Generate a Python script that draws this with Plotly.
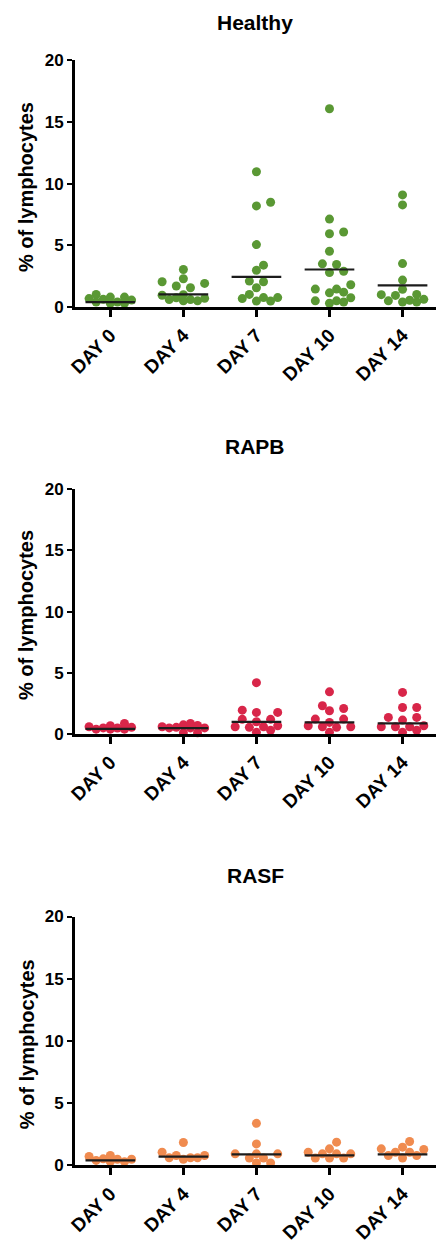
import math
import plotly.graph_objects as go

# Culture days on the x axis
days = ["DAY 0", "DAY 4", "DAY 7", "DAY 10", "DAY 14"]
y_ticks = [0, 5, 10, 15, 20]

# % of lymphocytes per donor, one list per culture day
healthy = [
    [0.3, 0.3, 0.4, 0.4, 0.56, 0.62, 0.68, 0.8, 0.8, 1.02],
    [0.5, 0.5, 0.6, 0.6, 0.7, 0.75, 0.95, 1.0, 1.56, 1.7, 1.91, 2.05, 2.29, 3.04],
    [0.48, 0.48, 0.68, 0.76, 0.76, 1.02, 1.56, 2.05, 2.1, 2.98, 3.39, 5.06, 8.2, 8.5, 10.97],
    [0.3, 0.4, 0.5, 0.5, 0.75, 1.15, 1.2, 1.45, 1.45, 1.8, 2.8, 2.9, 3.45, 3.5, 4.52,
     5.94, 6.08, 7.13, 16.08],
    [0.4, 0.4, 0.5, 0.55, 0.62, 0.94, 1.0, 1.02, 1.43, 2.18, 3.52, 8.28, 9.09],
]
healthy_median = [0.4, 1.02, 2.45, 3.04, 1.75]

rapb = [
    [0.4, 0.4, 0.4, 0.49, 0.5, 0.55, 0.6, 0.68, 0.87],
    [0.1, 0.1, 0.5, 0.5, 0.5, 0.55, 0.6, 0.7, 0.75, 0.87],
    [0.14, 0.3, 0.55, 0.6, 0.6, 0.68, 1.0, 1.2, 1.2, 1.77, 1.77, 1.95, 4.2],
    [0.14, 0.55, 0.6, 0.6, 0.68, 0.95, 1.22, 1.22, 1.9, 2.09, 2.31, 3.45],
    [0.14, 0.3, 0.6, 0.6, 0.6, 0.68, 1.14, 1.36, 1.36, 2.17, 2.17, 3.4],
]
rapb_median = [0.42, 0.49, 1.0, 0.95, 0.87]

rasf = [
    [0.3, 0.3, 0.4, 0.5, 0.5, 0.53, 0.72, 0.8],
    [0.5, 0.62, 0.62, 0.62, 0.8, 0.8, 1.06, 1.84],
    [0.2, 0.2, 0.6, 0.6, 0.93, 0.93, 0.93, 1.73, 3.38],
    [0.6, 0.6, 0.6, 0.93, 0.93, 0.93, 1.06, 1.33, 1.87],
    [0.6, 0.8, 0.8, 1.06, 1.06, 1.28, 1.33, 1.47, 1.92],
]
rasf_median = [0.4, 0.7, 0.88, 0.8, 0.88]

panels = [
    ("Healthy", healthy, healthy_median, "#5a9834"),
    ("RAPB", rapb, rapb_median, "#d82649"),
    ("RASF", rasf, rasf_median, "#f08b4f"),
]

W, H = 436, 1244
FONT = "Liberation Sans, Arial, sans-serif"
MARKER = 9

# vertical extent of each panel's plotting area (px from top: value 20, value 0)
panel_px = [(52.4, 303.6), (489.3, 738.7), (924.6, 1178.2)]
title_px = [14, 446, 883]
x_left_px = 69
x_range = [-0.485, 4.458]
x_unit_px = (W - x_left_px) / (x_range[1] - x_range[0])


def swarm(values, y_unit_px, step=7.2, dmin=8.8, kmax=3):
    """Bounded beeswarm: free slot nearest the centre, else the least crowded one."""
    placed, xs, ys = [], [], []
    order = [0]
    for k in range(1, kmax + 1):
        order += [k, -k]
    for v in sorted(values):
        y = v * y_unit_px
        best, best_gap = None, -1.0
        for k in order:
            x = k * step
            gap = min((math.hypot(x - px, y - py) for px, py in placed), default=1e9)
            if gap >= dmin:
                best = x
                break
            if gap > best_gap + 1e-9:
                best, best_gap = x, gap
        placed.append((best, y))
        xs.append(best / x_unit_px)
        ys.append(v)
    return xs, ys


fig = go.Figure()
annotations = []

for i, (name, groups, medians, color) in enumerate(panels):
    top_px, zero_px = panel_px[i]
    y_unit_px = (zero_px - top_px) / 20.0
    ax = "" if i == 0 else str(i + 1)
    xref, yref = "x" + ax, "y" + ax

    xs_all, ys_all = [], []
    for d, vals in enumerate(groups):
        offs, vs = swarm(vals, y_unit_px)
        xs_all += [d + o for o in offs]
        ys_all += vs
    fig.add_trace(go.Scatter(
        x=xs_all, y=ys_all, mode="markers", xaxis=xref, yaxis=yref,
        marker=dict(size=MARKER, color=color, line=dict(width=0)),
        cliponaxis=False, showlegend=False, hoverinfo="skip",
    ))

    mx, my = [], []
    for d, m in enumerate(medians):
        mx += [d - 0.34, d + 0.34, None]
        my += [m, m, None]
    fig.add_trace(go.Scatter(
        x=mx, y=my, mode="lines", xaxis=xref, yaxis=yref,
        line=dict(color="#1c1c1c", width=2.2),
        cliponaxis=False, showlegend=False, hoverinfo="skip",
    ))

    dom = [(H - zero_px) / H, (H - top_px) / H]
    fig.layout["xaxis" + ax] = dict(
        domain=[x_left_px / W, 1], range=x_range, anchor=yref,
        tickvals=list(range(len(days))), ticktext=days, tickangle=-45,
        ticks="outside", ticklen=7, tickwidth=2.5, tickcolor="black",
        showline=True, linewidth=2.6, linecolor="black",
        showgrid=False, zeroline=False,
        tickfont=dict(family=FONT, size=19, color="black", weight="bold"),
    )
    fig.layout["yaxis" + ax] = dict(
        domain=dom, range=[0, 20], anchor=xref,
        tickvals=y_ticks, ticks="outside", ticklen=5, tickwidth=2, tickcolor="black",
        showline=True, linewidth=2.6, linecolor="black",
        showgrid=False, zeroline=False,
        tickfont=dict(family=FONT, size=17, color="black", weight="bold"),
    )

    annotations.append(dict(
        text=name, xref="paper", yref="paper",
        x=(x_left_px + W) / 2 / W, y=(H - title_px[i]) / H,
        xanchor="center", yanchor="middle", showarrow=False,
        font=dict(family=FONT, size=21, color="black", weight="bold"),
    ))
    annotations.append(dict(
        text="% of lymphocytes", xref="paper", yref="paper",
        x=20 / W, y=(dom[0] + dom[1]) / 2 - 0.003, textangle=-90,
        xanchor="center", yanchor="middle", showarrow=False,
        font=dict(family=FONT, size=20, color="black", weight="bold"),
    ))

fig.update_layout(
    width=W, height=H, margin=dict(l=0, r=0, t=0, b=0),
    paper_bgcolor="white", plot_bgcolor="white",
    annotations=annotations,
)

# the page body keeps no margin so the figure sits flush in the window
fig.write_html(
    "out.html",
    post_script="document.body.style.margin='0';document.body.style.overflow='hidden';",
)
